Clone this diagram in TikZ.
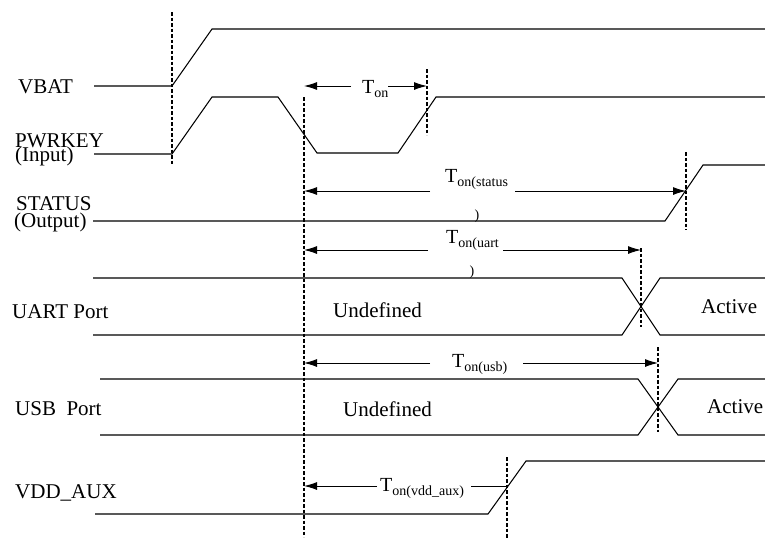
\documentclass[tikz,border=0pt]{standalone}
\usepackage{fontspec}
\setmainfont{Liberation Serif}
\usetikzlibrary{arrows.meta}
\newcommand\Tsb[1]{T{\fontsize{14}{14}\selectfont\raisebox{-4pt}{#1}}}
\begin{document}
\begin{tikzpicture}[x=1pt,y=-1pt,
  sig/.style={line width=1.05pt},
  guide/.style={line width=1.4pt, dash pattern=on 3.5pt off 2pt},
  dim/.style={line width=1pt},
  tip/.style={-{Latex[length=13pt,width=8pt]}},
  lbl/.style={anchor=base west, inner sep=0pt, font=\fontsize{21}{21}\selectfont},
  tlbl/.style={anchor=base west, inner sep=0pt, font=\fontsize{20}{20}\selectfont},
  plbl/.style={anchor=base, inner sep=0pt, font=\fontsize{14}{14}\selectfont},
]
\useasboundingbox (0,0) rectangle (765,539);

% signal labels
\node[lbl] (vbat) at (18,93) {VBAT};
\node[lbl] (pwr) at (15,147) {PWRKEY};
\node[lbl] (pwrin) at (15,161) {(Input)};
\node[lbl] (stat) at (16,210) {STATUS};
\node[lbl] (statout) at (14,227) {(Output)};
\node[lbl] (uart) at (12,318) {UART Port};
\node[lbl] (usb) at (15,415) {USB\ \ Port};
\node[lbl] (vdd) at (15,498) {VDD\_AUX};
\node[lbl] (und1) at (333,317) {Undefined};
\node[lbl] (act1) at (701,313) {Active};
\node[lbl] (und2) at (343,416) {Undefined};
\node[lbl] (act2) at (707,413) {Active};

% timing labels
\node[tlbl] (ton) at (362,93) {\Tsb{on}};
\node[tlbl] (tstat) at (445,182) {\Tsb{on(status}};
\node[plbl] (tstatp) at (477,219) {)};
\node[tlbl] (tuart) at (446,243) {\Tsb{on(uart}};
\node[plbl] (tuartp) at (472,275) {)};
\node[tlbl] (tusb) at (452,367) {\Tsb{on(usb)}};
\node[tlbl] (tvdd) at (380,491) {\Tsb{on(vdd\_aux)}};

% signals
\draw[sig] (94,86) -- (172,86) -- (212,29) -- (765,29);
\draw[sig] (94,154) -- (172,154) -- (212,97) -- (278,97) -- (317,153) -- (398,153) -- (436,97) -- (765,97);
\draw[sig] (93,221) -- (665,221) -- (703,165) -- (765,165);
\draw[sig] (93,278) -- (622,278) -- (660,335) -- (765,335);
\draw[sig] (93,335) -- (622,335) -- (660,278) -- (765,278);
\draw[sig] (100,379) -- (638,379) -- (678,435) -- (765,435);
\draw[sig] (100,435) -- (638,435) -- (678,379) -- (765,379);
\draw[sig] (95,514) -- (488,514) -- (526,461) -- (765,461);

% guide lines
\coordinate (g1t) at (172,12);  \coordinate (g1b) at (172,165);
\coordinate (g2t) at (304,97);  \coordinate (g2b) at (304,537);
\coordinate (g3t) at (427,69);  \coordinate (g3b) at (427,135);
\coordinate (g4t) at (686,152); \coordinate (g4b) at (686,230);
\coordinate (g5t) at (641,248); \coordinate (g5b) at (641,327);
\coordinate (g6t) at (658,347); \coordinate (g6b) at (658,432);
\coordinate (g7t) at (507,457); \coordinate (g7b) at (507,538);
\foreach \g in {g1,g2,g3,g4,g5,g6,g7}
  \draw[guide] (\g t) -- (\g b);

% dimension arrows
\coordinate (a1l) at (351,86);  \coordinate (a1r) at (388,86);
\draw[dim,tip] (a1l) -- (a1l -| g2t);
\draw[dim,tip] (a1r) -- (a1r -| g3t);
\coordinate (a2l) at (430,191); \coordinate (a2r) at (515,191);
\draw[dim,tip] (a2l) -- (a2l -| g2t);
\draw[dim,tip] (a2r) -- (a2r -| g4t);
\coordinate (a3l) at (428,250); \coordinate (a3r) at (503,250);
\draw[dim,tip] (a3l) -- (a3l -| g2t);
\draw[dim,tip] (a3r) -- (a3r -| g5t);
\coordinate (a4l) at (430,363); \coordinate (a4r) at (523,363);
\draw[dim,tip] (a4l) -- (a4l -| g2t);
\draw[dim,tip] (a4r) -- (a4r -| g6t);
\coordinate (a5l) at (377,486); \coordinate (a5r) at (471,486);
\draw[dim,tip] (a5l) -- (a5l -| g2t);
\draw[dim] (a5r) -- (a5r -| g7t);
\end{tikzpicture}
\end{document}
